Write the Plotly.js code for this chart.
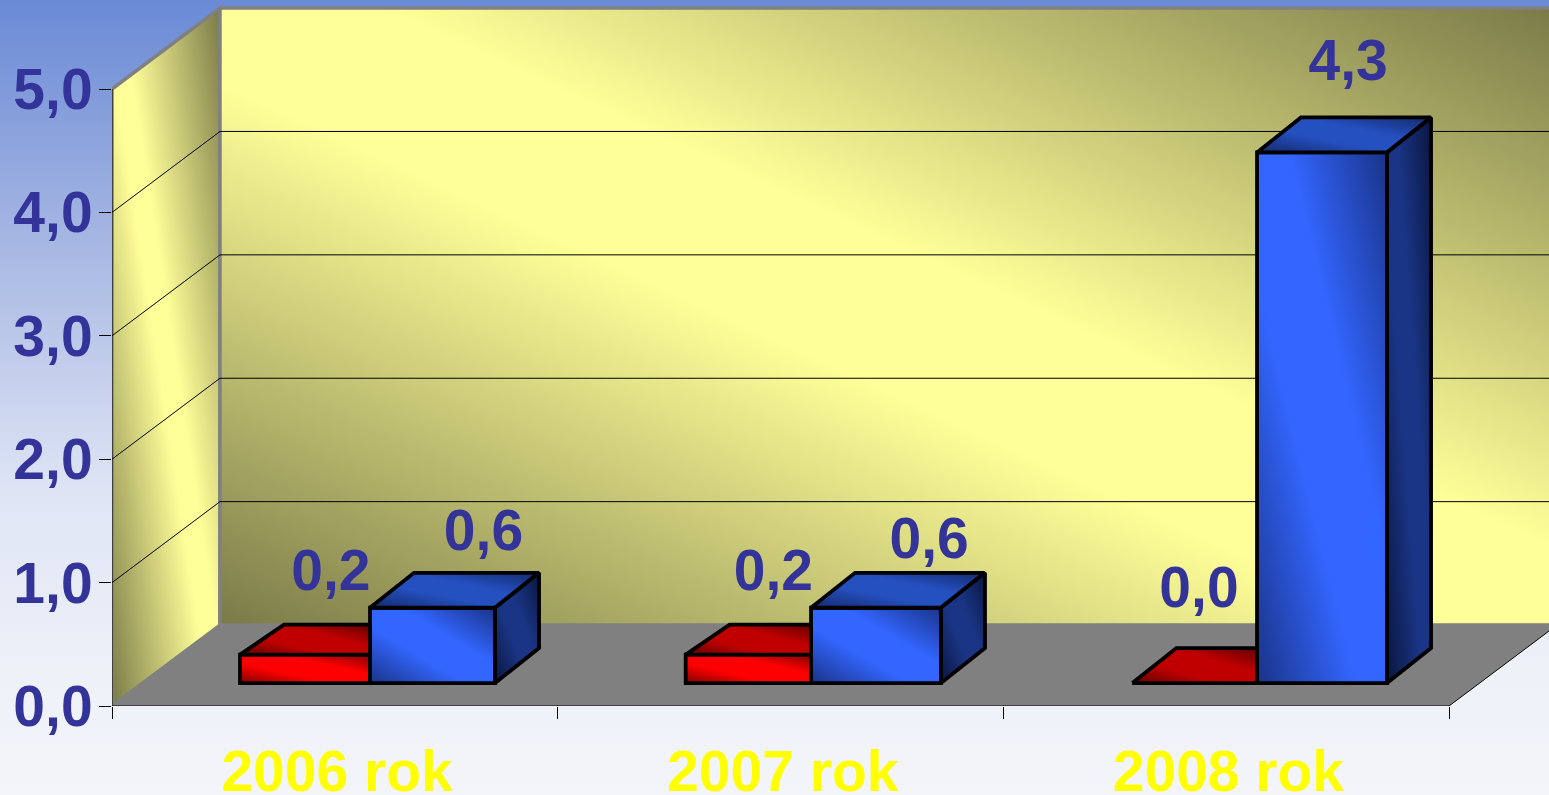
<!DOCTYPE html>
<html><head><meta charset="utf-8">
<script src="https://cdn.plot.ly/plotly-3.0.1.min.js"></script>
<style>
html,body{margin:0;padding:0;width:1549px;height:795px;overflow:hidden;
background:linear-gradient(to bottom,#6a8ad6 0%,#a9b9e3 32%,#dfe5f5 62%,#eef1f8 85%,#f3f5fa 100%);}
#chart{width:1549px;height:795px;}
</style></head><body><div id="chart"></div>
<script>
// ---- data ----
var categories = ['2006 rok','2007 rok','2008 rok'];
var redValues  = [0.23, 0.23, 0.0];
var blueValues = [0.61, 0.61, 4.3];
var yTicks     = [0,1,2,3,4,5];
var gridLevels = [1,2,3,4];

// ---- 3D look (axis units) ----
var wallDx = 0.2423, wallDy = 0.656;   // depth of room
var barDx  = 0.0987, barDy  = 0.2836;  // depth of bar
var barLift = 0.186;                   // front of bar above front of floor
var redLeft   = [0.2872, 1.2872, 2.2895];
var barSplit  = [0.5789, 1.5685, 2.5692];
var blueRight = [0.8595, 1.8601, 2.8610];
var redRearTrim = [0.04, 0.04, 0];
var xEnd = categories.length, yMax = 5;
var labelX = {red:[0.491,1.484,2.439], blue:[0.8335,1.8335,2.7735]};
var labelAbove = {red:[0.637,0.637,0.734], blue:[0.58,0.515,0.701]};
var LW = 3.8;

function pathOf(pts, close){
  return 'M' + pts.map(function(p){return p[0]+','+p[1];}).join('L') + (close?'Z':'');
}
var shapeGrads = [];
function shp(pts, close, fill, lineColor, lineW, grad){
  shapeGrads.push(grad||null);
  return {type:'path', xref:'x', yref:'y', layer:'below', path:pathOf(pts,close),
    fillcolor: fill||'rgba(0,0,0,0)', line:{color:lineColor||'rgba(0,0,0,0)', width:lineW||0}};
}
var shapes = [];
shapes.push(shp([[0,0],[wallDx,wallDy],[wallDx,yMax+wallDy],[0,yMax]],true,'#ffff99','#808080',3.5,'gSideWall'));
shapes.push(shp([[wallDx,wallDy],[xEnd+wallDx,wallDy],[xEnd+wallDx,yMax+wallDy],[wallDx,yMax+wallDy]],true,'#ffff99','#808080',3.5,'gWall'));
shapes.push(shp([[0,0],[xEnd,0],[xEnd+wallDx,wallDy],[wallDx,wallDy]],true,'#808080'));
gridLevels.forEach(function(g){
  shapes.push(shp([[0,g],[wallDx,g+wallDy],[xEnd+wallDx,g+wallDy]],false,null,'#000',1));
});
shapes.push(shp([[0,0],[0,yMax]],false,null,'#000',1));
shapes.push(shp([[0,0],[xEnd,0],[xEnd+wallDx,wallDy]],false,null,'#000',1));

var traces = [];
var xs = categories.map(function(c,i){return i;});
function barTrace(lefts, rights, vals, color){
  return {type:'bar', x:xs.map(function(i){return (lefts[i]+rights[i])/2;}), y:vals,
    base:vals.map(function(){return barLift;}), width:xs.map(function(i){return rights[i]-lefts[i];}),
    marker:{color:color, line:{color:'#000', width:LW}}, hoverinfo:'skip', showlegend:false};
}
traces.push(barTrace(redLeft, barSplit, redValues, '#ff0000'));
traces.push(barTrace(barSplit, blueRight, blueValues, '#3366ff'));
var barGrads = ['gRedFront','gBlueFront'];

var scatterGrads = [];
function face(pts, color, grad){
  scatterGrads.push(grad);
  traces.push({type:'scatter', mode:'lines', x:pts.map(function(p){return p[0];}), y:pts.map(function(p){return p[1];}),
    fill:'toself', fillcolor:color, line:{color:'#000', width:LW}, hoverinfo:'skip', showlegend:false, cliponaxis:false});
}
xs.forEach(function(i){
  // red top: its right part is hidden by the blue front, so it ends at the blue bar's edge
  var x0=redLeft[i], x1=barSplit[i], h=barLift+redValues[i], d=barDy-redRearTrim[i];
  face([[x0,h],[x0+barDx,h+d],[x1,h+d],[x1,h],[x0,h]],'#c00000','gRedTop');
  // blue top and side
  x0=barSplit[i]; x1=blueRight[i]; h=barLift+blueValues[i];
  face([[x0,h],[x0+barDx,h+barDy],[x1+barDx,h+barDy],[x1,h],[x0,h]],'#2450c0','gBlueTop');
  face([[x1,barLift],[x1+barDx,barLift+barDy],[x1+barDx,h+barDy],[x1,h],[x1,barLift]],'#1a3585','gBlueSide');
});
// value labels
var lx=[],ly=[],lt=[];
xs.forEach(function(i){
  [['red',redValues],['blue',blueValues]].forEach(function(s){
    lx.push(labelX[s[0]][i]);
    ly.push(barLift+s[1][i]+labelAbove[s[0]][i]);
    lt.push(s[1][i].toFixed(1).replace('.',','));
  });
});
traces.push({type:'scatter', mode:'text', x:lx, y:ly, text:lt, textposition:'middle center',
  textfont:{family:'Liberation Sans', size:57, color:'#333399', weight:700},
  hoverinfo:'skip', showlegend:false, cliponaxis:false});

var layout = {
  width:1549, height:795, margin:{l:112,r:0,t:0,b:89,pad:0},
  paper_bgcolor:'rgba(0,0,0,0)', plot_bgcolor:'rgba(0,0,0,0)',
  separators:', ', showlegend:false, barmode:'overlay', shapes:shapes,
  font:{family:'Liberation Sans'},
  xaxis:{type:'linear', range:[0,1437/445.67], showgrid:false, zeroline:false, showline:false,
    tickmode:'array', tickvals:[0.505,1.505,2.505], ticktext:categories, ticks:'',
    ticklabelstandoff:27,
    tickfont:{family:'Liberation Sans', size:57, color:'#ffff00', weight:700},
    minor:{tickmode:'array', tickvals:[0,1,2,3], ticks:'outside', ticklen:12, tickwidth:1, tickcolor:'#000', showgrid:false}},
  yaxis:{range:[0,706/123.4], showgrid:false, zeroline:false, showline:false,
    tickmode:'array', tickvals:yTicks, tickformat:'.1f', ticks:'outside', ticklen:12, tickwidth:1, tickcolor:'#000',
    ticklabelstandoff:-5,
    tickfont:{family:'Liberation Sans', size:57, color:'#333399', weight:700}}
};

Plotly.newPlot('chart', traces, layout, {displayModeBar:false, staticPlot:true}).then(function(){
  var NS='http://www.w3.org/2000/svg';
  var svg=document.querySelector('#chart svg.main-svg');
  var defs=svg.querySelector('defs');
  function grad(id,dark,bright,a,b){
    var g=document.createElementNS(NS,'linearGradient');
    g.setAttribute('id',id);
    g.setAttribute('x1','0');g.setAttribute('y1','1');g.setAttribute('x2','1');g.setAttribute('y2','0');
    [[0,dark],[a,bright],[b,bright],[1,dark]].forEach(function(s){
      var st=document.createElementNS(NS,'stop');
      st.setAttribute('offset',s[0]);st.setAttribute('stop-color',s[1]);g.appendChild(st);
    });
    defs.appendChild(g);
  }
  grad('gWall','#7a7a48','#ffff99',.44,.56);
  grad('gSideWall','#7a7a48','#ffff99',.46,.54);
  grad('gRedFront','#800000','#ff0000',.35,.65);
  grad('gBlueFront','#1a3388','#3366ff',.38,.62);
  grad('gRedTop','#600000','#c00000',.35,.65);
  grad('gBlueTop','#14296b','#2450c0',.38,.62);
  grad('gBlueSide','#0a1640','#1a3585',.4,.6);
  document.querySelectorAll('#chart .shapelayer path').forEach(function(p,i){
    var idx=p.getAttribute('data-index'); var g=shapeGrads[idx===null?i:+idx];
    if(g) p.style.fill='url(#'+g+')';
  });
  document.querySelectorAll('#chart .barlayer .trace').forEach(function(t,i){
    t.querySelectorAll('.point path').forEach(function(p){p.style.fill='url(#'+barGrads[i]+')';});
  });
  document.querySelectorAll('#chart .scatterlayer .trace').forEach(function(t,i){
    if(scatterGrads[i]) t.querySelectorAll('path.js-fill').forEach(function(p){p.style.fill='url(#'+scatterGrads[i]+')';});
  });
});
</script></body></html>
